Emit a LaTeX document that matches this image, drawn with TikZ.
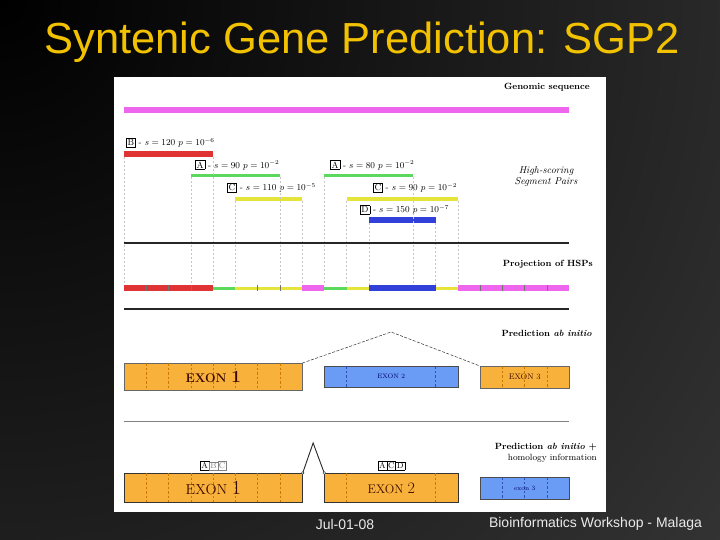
\documentclass[tikz,border=0pt]{standalone}
\usepackage{amsmath}
\usepackage{fontspec}
\newfontfamily\slidefont{Liberation Sans}
\usepackage{xcolor}
\usepackage{tikz}
\usetikzlibrary{positioning}

\definecolor{titlegold}{HTML}{F2C200}
\definecolor{seqpink}{HTML}{EE66EE}
\definecolor{hspred}{HTML}{E03434}
\definecolor{hspgreen}{HTML}{5CD85C}
\definecolor{hspyellow}{HTML}{E6E43A}
\definecolor{hspblue}{HTML}{3140D8}
\definecolor{exonorange}{HTML}{F8B13A}
\definecolor{exonblue}{HTML}{6A9BF5}
\definecolor{exontext}{HTML}{3A0A00}
\definecolor{exondash}{HTML}{C87800}
\definecolor{exonbluedash}{HTML}{3050B0}

\setlength{\fboxsep}{1pt}
\setlength{\fboxrule}{0.4pt}
\newcommand{\seg}[1]{\fbox{#1}}
\newcommand{\hsplabel}[3]{\seg{#1} - $s = #2$ $p = 10^{#3}$}

\begin{document}
\begin{tikzpicture}[x=1pt, y=-1pt]
    \tikzstyle{tag} = [inner sep=0pt, font=\fontsize{9}{10.5}\selectfont\bfseries]
    \tikzstyle{hsptext} = [inner sep=0pt, anchor=west, font=\fontsize{9}{10}\selectfont]
    \tikzstyle{guide} = [gray!45, line width=0.3pt, dash pattern=on 2pt off 2pt]
    \tikzstyle{rule} = [black!85, line width=1.6pt]
    \tikzstyle{exon} = [draw=black!60, line width=0.5pt, fill=exonorange, inner sep=0pt, anchor=north west, text=exontext]
    \tikzstyle{exonb} = [draw=black!70, line width=0.5pt, fill=exonblue, inner sep=0pt, anchor=north west, text=black!70!blue]
    \tikzstyle{exdash} = [exondash, line width=0.4pt, dash pattern=on 2.5pt off 2pt]
    \tikzstyle{exbdash} = [exonbluedash, line width=0.4pt, dash pattern=on 2.5pt off 2pt]

    % slide background
    \fill[black!69] (0,0) rectangle (720,540);
    \begin{scope}
        \clip (0,0) rectangle (720,540);
        \shade[inner color=black, outer color=black!69] (0,0) circle (1400pt);
    \end{scope}
    \useasboundingbox (0,0) rectangle (720,540);
    \fill[white] (114,77) rectangle (606,512);

    \node[font=\slidefont\fontsize{43.5}{44}\selectfont, text=titlegold] (title) at (362,42) {Syntenic Gene Prediction: SGP2};
    \node[font=\slidefont\fontsize{14}{14}\selectfont, text=black!8] (date) at (345,524) {Jul-01-08};
    \node[font=\slidefont\fontsize{14}{14}\selectfont, text=black!8] (venue) at (595.5,524) {Bioinformatics Workshop - Malaga};

    \begin{scope}[x=22.25pt, shift={(124pt,0pt)}]
        % genomic sequence
        \node[tag, anchor=east] (genomic) at (20.94,87) {Genomic sequence};
        \fill[seqpink] (0,107) rectangle (20,113);

        % high-scoring segment pairs
        \fill[hspred] (0,151) rectangle (4,157);
        \fill[hspgreen] (3,174) rectangle (7,177.5);
        \fill[hspyellow] (5,197.5) rectangle (8,201);
        \fill[hspgreen] (9,174) rectangle (13,177.5);
        \fill[hspyellow] (10,197.5) rectangle (15,201);
        \fill[hspblue] (11,217) rectangle (14,223);

        \node[hsptext] (hspB) at (0.09,143) {\hsplabel{B}{120}{-6}};
        \node[hsptext] (hspA1) at (3.19,165) {\hsplabel{A}{90}{-2}};
        \node[hsptext] (hspA2) at (9.26,165) {\hsplabel{A}{80}{-2}};
        \node[hsptext] (hspC1) at (4.63,188) {\hsplabel{C}{110}{-5}};
        \node[hsptext] (hspC2) at (11.19,188) {\hsplabel{C}{90}{-2}};
        \node[hsptext] (hspD) at (10.6,210) {\hsplabel{D}{150}{-7}};

        \node[inner sep=0pt, align=center, font=\fontsize{10}{11}\selectfont\itshape] (hsps) at (18.97,177) {High-scoring\\Segment Pairs};

        \foreach \gx/\gtop in {0/157, 4/157, 3/177, 7/177, 5/201, 8/201, 9/177, 13/177, 10/201, 15/201, 11/223, 14/223}
            \draw[guide] (\gx,\gtop) -- (\gx,285);

        \draw[rule] (0,243) -- (20,243);

        % projection of HSPs
        \node[tag, anchor=east] (projection) at (21.08,264) {Projection of HSPs};
        \fill[hspred] (0,285) rectangle (4,291);
        \fill[hspgreen] (4,286.5) rectangle (5,289.5);
        \fill[hspyellow] (5,286.5) rectangle (8,289.5);
        \fill[seqpink] (8,285) rectangle (9,291);
        \fill[hspgreen] (9,286.5) rectangle (10,289.5);
        \fill[hspyellow] (10,286.5) rectangle (11,289.5);
        \fill[hspblue] (11,285) rectangle (14,291);
        \fill[hspyellow] (14,286.5) rectangle (15,289.5);
        \fill[seqpink] (15,285) rectangle (20,291);
        \foreach \t in {1,2,3,6,7,16,17,18,19}
            \draw[black!55, line width=0.4pt] (\t,285) -- (\t,291);

        \draw[rule] (0,309) -- (20,309);

        % prediction ab initio
        \node[tag, anchor=east] (abinitio) at (21.03,333) {Prediction \textit{ab initio}};
        \node[exon, minimum width=178pt, minimum height=27pt] (ex1a) at (0,363) {};
        \node[exonb, minimum width=133.5pt, minimum height=21pt] (ex2a) at (9,366) {};
        \node[exon, minimum width=89pt, minimum height=22pt] (ex3a) at (16,366) {};
        \foreach \t in {1,...,7}
            \draw[exdash] (\t,363.3) -- (\t,389.7);
        \foreach \t in {10,14}
            \draw[exbdash] (\t,366.3) -- (\t,386.7);
        \foreach \t in {17,18,19}
            \draw[exdash] (\t,366.3) -- (\t,387.7);
        \node[text=exontext, font=\fontsize{12.5}{13}\selectfont\bfseries] at (ex1a.center) {EXON {\fontsize{17}{17}\selectfont 1}};
        \node[text=black!60!blue, font=\fontsize{6.5}{7}\selectfont] at (ex2a.center) {EXON 2};
        \node[text=exontext, font=\fontsize{8}{9}\selectfont] at (ex3a.center) {EXON 3};
        \coordinate (peak1) at (12,332);
        \draw[black!80, line width=0.5pt, dash pattern=on 3pt off 1.5pt] (ex1a.north east) -- (peak1) -- (ex3a.north west);

        \draw[gray, line width=0.7pt] (0,421) -- (20,421);

        % prediction ab initio + homology
        \node[tag, anchor=east, align=right] (homology) at (21.26,453) {Prediction \textit{ab initio} +\\\mdseries homology information};
        \node[exon, draw=black!80, line width=0.7pt, minimum width=178pt, minimum height=29pt] (ex1b) at (0,473) {};
        \node[exon, draw=black!80, line width=0.7pt, minimum width=133.5pt, minimum height=29pt] (ex2b) at (9,473) {};
        \node[exonb, minimum width=89pt, minimum height=22pt] (ex3b) at (16,477) {};
        \foreach \t in {1,...,7}
            \draw[exdash] (\t,473.4) -- (\t,501.6);
        \foreach \t in {10,14}
            \draw[exdash] (\t,473.4) -- (\t,501.6);
        \foreach \t in {17,18,19}
            \draw[exbdash] (\t,477.3) -- (\t,498.7);
        \node[text=exontext, font=\fontsize{14.5}{15}\selectfont] at (ex1b.center) {EXON {\fontsize{20}{20}\selectfont 1}};
        \node[text=exontext, font=\fontsize{12.5}{13}\selectfont] at (ex2b.center) {EXON {\fontsize{16}{16}\selectfont 2}};
        \node[text=black!60!blue, font=\fontsize{6.5}{7}\selectfont] at (ex3b.center) {exon 3};
        \node[inner sep=0pt, font=\fontsize{8.5}{9}\selectfont, above=2.5pt of ex1b] (setABC) {\seg{A}\kern-\fboxrule{\color{gray}\seg{B}\kern-\fboxrule\seg{C}}};
        \node[inner sep=0pt, font=\fontsize{8.5}{9}\selectfont, above=2.5pt of ex2b] (setACD) {\seg{A}\kern-\fboxrule\seg{C}\kern-\fboxrule\seg{D}};
        \coordinate (peak2) at (8.5,443);
        \draw[black!85, line width=0.9pt] (ex1b.north east) -- (peak2) -- (ex2b.north west);
        \draw[black!85, fill=white, line width=0.4pt] (ex1b.north east) circle (1.3pt) (ex2b.north west) circle (1.3pt);
    \end{scope}
\end{tikzpicture}
\end{document}
